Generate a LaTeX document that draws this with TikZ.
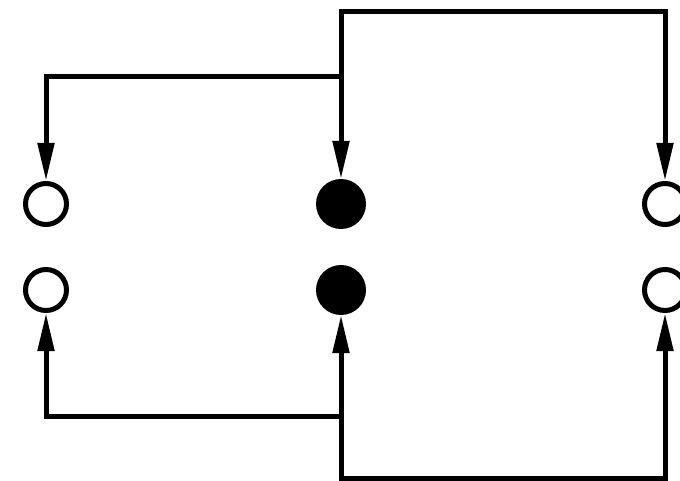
\documentclass[tikz,border=0pt]{standalone}
\usetikzlibrary{arrows.meta}
\begin{document}
\begin{tikzpicture}[x=1pt,y=-1pt,
  opendot/.style={circle,draw,line width=5pt,fill=white,minimum size=41pt,inner sep=0pt},
  filldot/.style={circle,fill=black,minimum size=50pt,inner sep=0pt,outer sep=0pt},
  wire/.style={line width=5pt,line join=miter},
  tip/.tip={Triangle[length=38pt,width=16pt]}]
\useasboundingbox (0,0) rectangle (680,481);
\fill[white] (0,0) rectangle (680,481);
\node[opendot] (l1) at (46,204) {};
\node[opendot] (l2) at (46,290) {};
\node[filldot] (m1) at (341,204) {};
\node[filldot] (m2) at (341,290) {};
\node[opendot] (r1) at (665,204) {};
\node[opendot] (r2) at (665,290) {};
\coordinate (j1) at (341,12);
\coordinate (j2) at (341,77);
\coordinate (j3) at (341,416);
\coordinate (j4) at (341,478);
\draw[wire,tip-tip] (m1) -- (j1) -| (r1);
\draw[wire,-tip] (j2) -| (l1);
\draw[wire,tip-tip] (m2) -- (j4) -| (r2);
\draw[wire,-tip] (j3) -| (l2);
\end{tikzpicture}
\end{document}
